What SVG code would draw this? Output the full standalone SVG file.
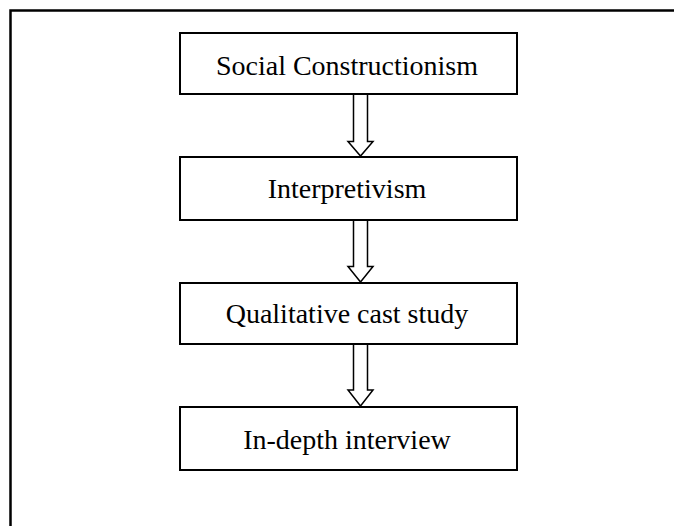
<svg xmlns="http://www.w3.org/2000/svg" width="674" height="526" viewBox="0 0 674 526">
<style>
.box{fill:#fff;stroke:#000;stroke-width:2}
.lbl{font-family:"Liberation Serif","Times New Roman",serif;font-size:28px;fill:#000;text-anchor:middle}
.arr{fill:#fff;stroke:#000;stroke-width:1.5;stroke-linejoin:miter}
.frame{fill:none;stroke:#000;stroke-width:2.5}
</style>
<rect width="674" height="526" fill="#fff"/>
<path class="frame" d="M10.5 530 V10.5 H680"/>
<g id="connectors">
<path class="arr" d="M353.5 94 V141.5 H348 L360.5 156 L373 141.5 H367.5 V94 Z"/>
<path class="arr" d="M353.5 220 V266.5 H348 L360.5 282 L373 266.5 H367.5 V220 Z"/>
<path class="arr" d="M353.5 344 V390 H348 L360.5 406 L373 390 H367.5 V344 Z"/>
</g>
<g id="n1"><rect class="box" x="180" y="33" width="337" height="61"/><text class="lbl" x="347" y="75">Social Constructionism</text></g>
<g id="n2"><rect class="box" x="180" y="157" width="337" height="63"/><text class="lbl" x="347" y="198">Interpretivism</text></g>
<g id="n3"><rect class="box" x="180" y="283" width="337" height="61"/><text class="lbl" x="347" y="323">Qualitative cast study</text></g>
<g id="n4"><rect class="box" x="180" y="407" width="337" height="63"/><text class="lbl" x="347" y="449">In-depth interview</text></g>
</svg>
